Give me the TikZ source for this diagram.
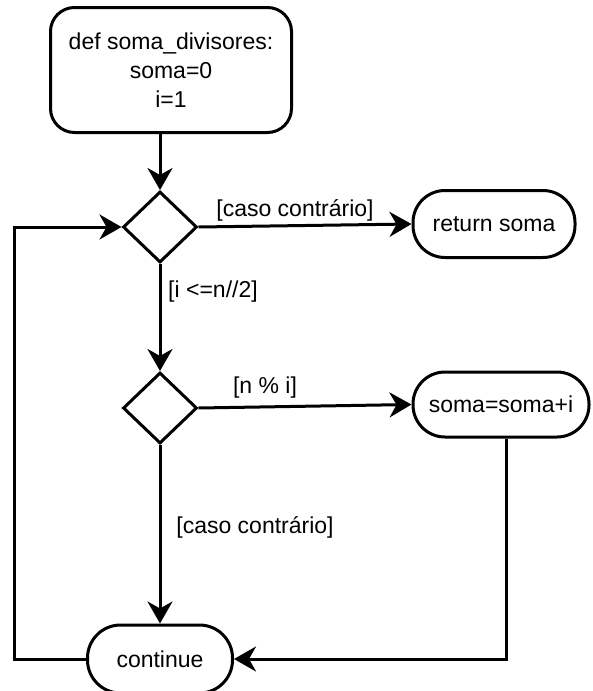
\documentclass[tikz,border=0pt]{standalone}
\usepackage{fontspec}
\setmainfont{Liberation Sans}
\usetikzlibrary{shapes.geometric,arrows.meta,calc}
\begin{document}
\begin{tikzpicture}[x=1pt,y=-1pt,
  every node/.style={font=\fontsize{23}{29}\selectfont},
  stroke/.style={line width=3pt},
  stadium/.style={draw,stroke,rounded corners=32pt,minimum height=66pt,inner sep=0pt},
  decision/.style={draw,stroke,diamond,minimum width=74pt,minimum height=71pt,inner sep=0pt},
  flow/.style={draw,stroke,-{Stealth[length=22pt,width=25pt,inset=7pt]}},
  lbl/.style={inner sep=0pt}]
\useasboundingbox (0,0) rectangle (593,691);

% nodes
\node[draw,stroke,rounded corners=24pt,minimum width=241pt,minimum height=125pt,
      align=center,inner sep=0pt] (start) at (171,70)
      {def soma\_divisores:\\soma=0\\i=1};
\node[decision] (d1) at (160,227) {};
\node[stadium,minimum width=162pt,minimum height=67pt] (ret) at (494,224) {return soma};
\node[decision] (d2) at (160,408) {};
\node[stadium,minimum width=176pt,minimum height=65pt] (soma) at (501,404.5) {soma=soma+i};
\node[stadium,minimum width=145pt,minimum height=68pt,rounded corners=33pt] (cont) at (160,659) {continue};

\coordinate (loopx) at (14,0);

% connectors
\draw[flow] (d1.north |- start.south) -- (d1.north);
\draw[flow] (d1.east) -- (ret.west);
\draw[flow] (d1.south) -- (d2.north);
\draw[flow] (d2.east) -- (soma.west);
\draw[flow] (d2.south) -- (cont.north);
\draw[flow] ($(soma.south)+(5,0)$) |- (cont.east);
\draw[flow] (cont.west) -- (cont.west -| loopx) |- (d1.west);

% guard labels
\node[lbl] (g1) at (295,210) {[caso contrário]};
\node[lbl] (g2) at (213,292) {[i <=n//2]};
\node[lbl] (g3) at (265,388) {[n \% i]};
\node[lbl] (g4) at (255,527) {[caso contrário]};
\end{tikzpicture}
\end{document}
